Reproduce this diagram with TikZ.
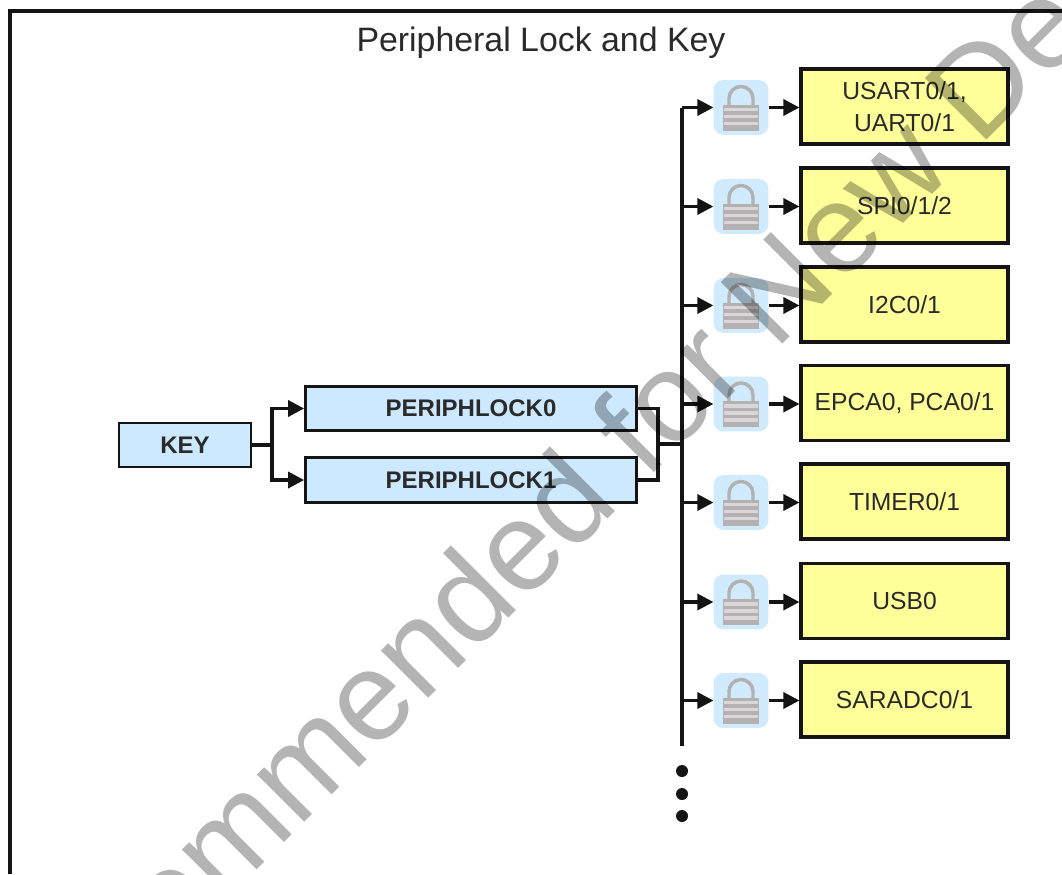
\documentclass[tikz,border=0pt]{standalone}
\usepackage{fontspec}
\setmainfont{Liberation Sans}
\usetikzlibrary{arrows.meta}
\definecolor{boxyellow}{HTML}{FFFF99}
\definecolor{boxblue}{HTML}{CCE9FF}
\definecolor{lockblue}{HTML}{CFEBFD}
\definecolor{ink}{HTML}{141414}
\definecolor{txt}{HTML}{2A2A2A}
\definecolor{lockgrey}{HTML}{B4B1B3}
\definecolor{lockpale}{HTML}{DAD7D8}
\tikzset{
  x=0.75pt,y=-0.75pt,
  frameline/.style={draw=ink,line width=2.5pt,line cap=butt},
  regbox/.style={draw=ink,line width=2.3pt,fill=boxblue,text=txt,font=\fontsize{18}{21}\selectfont\bfseries,inner sep=0pt,anchor=center},
  perbox/.style={draw=ink,line width=2.6pt,fill=boxyellow,text=txt,font=\fontsize{18.5}{24}\selectfont,align=center,inner sep=0pt,minimum width=155pt,minimum height=56.5pt,anchor=center},
  lockbg/.style={fill=lockblue,rounded corners=7pt,minimum width=41pt,minimum height=41pt,inner sep=0pt,anchor=center},
  wire/.style={draw=ink,line width=2.5pt},
  arrowwire/.style={wire,-{Triangle[length=12pt,width=12pt]}},
  busdot/.style={circle,fill=ink,minimum size=9pt,inner sep=0pt,anchor=center}
}
\begin{document}
\begin{tikzpicture}
\useasboundingbox (0,0) rectangle (1062,874);
\fill[white] (0,0) rectangle (1062,874);
\coordinate (frameBL) at (10,874);
\coordinate (frameTL) at (10,11);
\coordinate (frameTR) at (1062,11);
\draw[frameline] (frameBL) -- (frameTL) -- (frameTR);
\node[text=txt,font=\fontsize{25.4}{30}\selectfont,anchor=center] (title) at (541,43) {Peripheral Lock and Key};

% key and lock registers
\node[regbox,line width=2pt,minimum width=99pt,minimum height=33pt] (key) at (185,445) {KEY};
\node[regbox,minimum width=248pt,minimum height=33.5pt] (pl0) at (471,408.5) {PERIPHLOCK0};
\node[regbox,minimum width=248pt,minimum height=33.5pt] (pl1) at (471,480) {PERIPHLOCK1};

% bus
\coordinate (busEnd) at (682,746);
\coordinate (busMid) at (682,444);
\coordinate (joinL) at (272,445);
\coordinate (joinR) at (658,444);

% peripherals with their locks
\foreach \n/\yy/\ltxt in {1/106.5/{USART0/1,\\UART0/1},2/205.5/{SPI0/1/2},3/304.5/{I2C0/1},4/403/{EPCA0, PCA0/1},5/501.5/{TIMER0/1},6/601/{USB0},7/699.5/{SARADC0/1}}{
  \node[perbox] (per\n) at (904.5,\yy) {\ltxt};
  \node[lockbg] (lock\n) at (741,\yy+1) {};
  \begin{scope}[shift={(lock\n.center)}]
    \draw[draw=lockgrey,line width=2.6pt,fill=none] (-12,0) -- (-12,-9) arc[start angle=180,end angle=0,x radius=12,y radius=-12] -- (12,0);
    \fill[lockgrey] (-18,-3) rectangle (18,23);
    \foreach \s in {0,7,14}{\fill[lockpale] (-17,\s) rectangle (17,\s+3.5);}
  \end{scope}
  \coordinate (tap\n) at (682,\yy+1);
  \draw[arrowwire] (tap\n) -- (lock\n.west);
  \draw[arrowwire] (lock\n.east) -- (lock\n.east -| per\n.west);
}

\draw[wire] (tap1) -- (busEnd);
\draw[wire] (key.east) -- (joinL);
\draw[arrowwire] (joinL) |- (pl0.west);
\draw[arrowwire] (joinL) |- (pl1.west);
\draw[wire] (pl0.east) -| (joinR);
\draw[wire] (pl1.east) -| (joinR);
\draw[wire] (joinR) -- (busMid);

\node[busdot] (d1) at (682,771) {};
\node[busdot] (d2) at (682,794) {};
\node[busdot] (d3) at (682,816) {};

% watermark
\begin{scope}
\clip (0,0) rectangle (1062,874);
\node[text=black,text opacity=.295,rotate=45,anchor=base,font=\fontsize{95}{100}\selectfont,inner sep=0pt] (wm) at (577,550) {Not Recommended for New Designs};
\end{scope}
\end{tikzpicture}
\end{document}
